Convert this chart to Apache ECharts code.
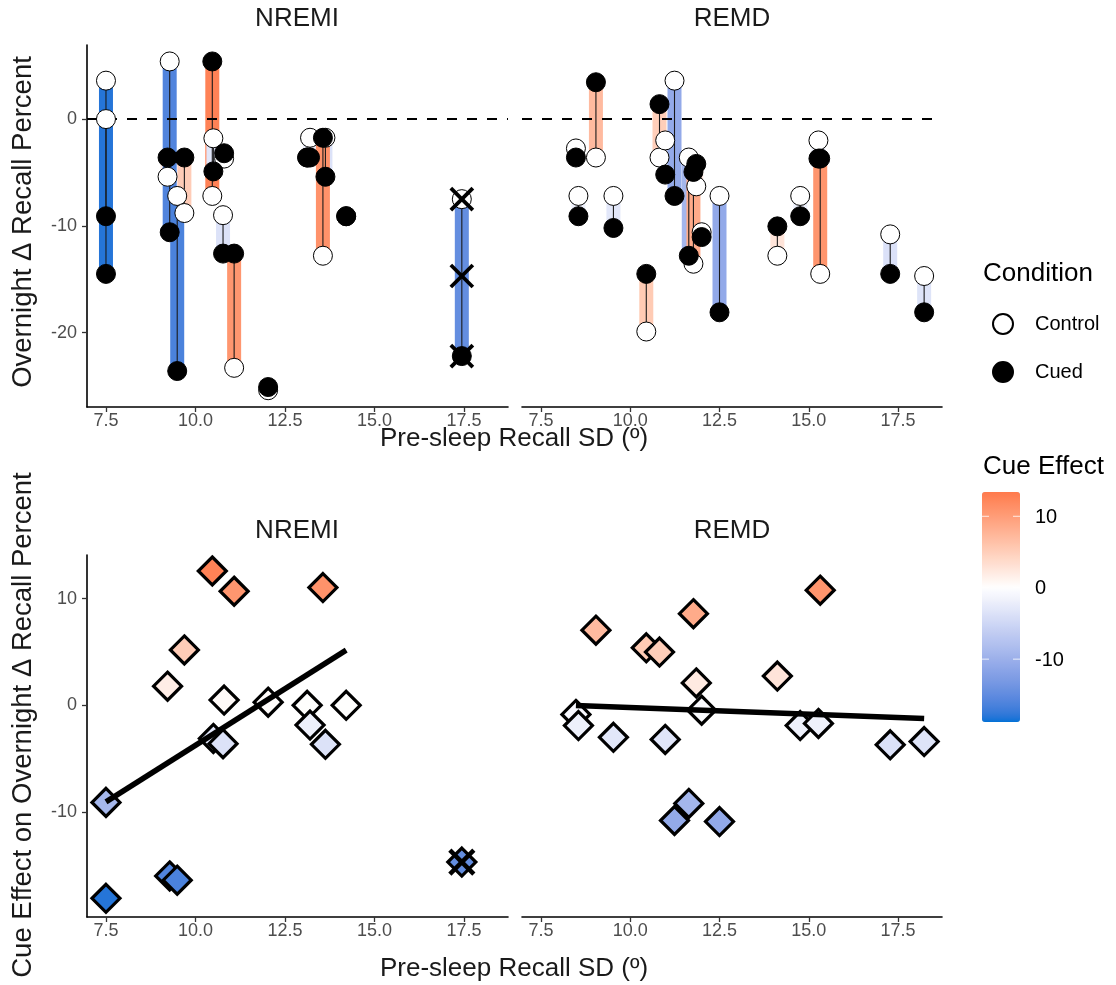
<!DOCTYPE html>
<html>
<head>
<meta charset="utf-8">
<script src="https://cdn.jsdelivr.net/npm/echarts@6/dist/echarts.min.js"></script>
<style>
html,body{margin:0;padding:0;background:#fff;}
#chart{width:1116px;height:985px;}
</style>
</head>
<body>
<div id="chart"></div>
<script>
// ---------------- DATA ----------------
const panels = ['NREMI', 'REMD'];
// NREMI participants: pre-sleep recall SD, Control and Cued overnight change
const nremiSD      = [7.50, 7.50, 9.22, 9.28, 9.49, 9.69, 10.47, 10.50, 10.77, 10.80, 11.08, 12.03, 13.12, 13.20, 13.63, 13.56, 14.21];
const nremiControl = [0.0, 3.6, -5.4, 5.4, -7.2, -8.8, -7.2, -1.8, -9.0, -3.7, -23.3, -25.4, -3.6, -1.75, -1.75, -12.8, -9.1];
const nremiCued    = [-9.1, -14.5, -3.6, -10.6, -23.6, -3.6, 5.4, -4.9, -12.6, -3.2, -12.6, -25.1, -3.6, -3.6, -5.4, -1.75, -9.1];
// NREMI outlier (drawn with X marks, excluded from fit)
const outlierSD = [17.44];
const outlierControl = [-7.5];
const outlierCued = [-22.2];
// REMD participants
const remdSD      = [8.48, 8.55, 9.04, 9.53, 10.45, 10.82, 10.98, 11.24, 11.64, 11.77, 11.85, 12.00, 12.50, 14.12, 14.76, 15.27, 15.32, 17.28, 18.23];
const remdControl = [-2.75, -7.2, -3.6, -7.2, -19.9, -3.6, -2.0, 3.6, -3.6, -13.55, -6.3, -10.6, -7.2, -12.8, -7.2, -2.0, -14.5, -10.8, -14.7];
const remdCued    = [-3.6, -9.1, 3.45, -10.2, -14.5, 1.4, -5.2, -7.2, -12.8, -4.95, -4.2, -11.05, -18.1, -10.05, -9.1, -3.7, -3.7, -14.5, -18.1];
// axis ticks
const xTicks = [7.5, 10.0, 12.5, 15.0, 17.5];
const topYTicks = [-20, -10, 0];
const bottomYTicks = [-10, 0, 10];
const cueLegendTicks = [10, 0, -10];
// scale limits
const xLimits = [6.97, 18.73];
const topYLimits = [-26.97, 6.94];
const bottomYLimits = [-19.85, 14.1];
const cueLimits = [-18.8, 13.4];
const lowColor = [0, 113, 214];
const highColor = [255, 122, 76];

// ---------------- COLOUR (Lab interpolation, white midpoint at 0) ----------------
function toLin(c){c/=255;return c<=0.04045?c/12.92:Math.pow((c+0.055)/1.055,2.4);}
function fromLin(c){c=c<=0.0031308?12.92*c:1.055*Math.pow(c,1/2.4)-0.055;return Math.max(0,Math.min(255,Math.round(c*255)));}
function f(t){return t>0.008856?Math.cbrt(t):7.787*t+16/116;}
function finv(t){const t3=t*t*t;return t3>0.008856?t3:(t-16/116)/7.787;}
function rgb2lab(c){const r=toLin(c[0]),g=toLin(c[1]),b=toLin(c[2]);
 const X=(0.4124*r+0.3576*g+0.1805*b)/0.95047,Y=0.2126*r+0.7152*g+0.0722*b,Z=(0.0193*r+0.1192*g+0.9505*b)/1.08883;
 return [116*f(Y)-16,500*(f(X)-f(Y)),200*(f(Y)-f(Z))];}
function lab2rgb(l){const fy=(l[0]+16)/116,fx=fy+l[1]/500,fz=fy-l[2]/200;
 const X=0.95047*finv(fx),Y=finv(fy),Z=1.08883*finv(fz);
 const r=3.2406*X-1.5372*Y-0.4986*Z,g=-0.9689*X+1.8758*Y+0.0415*Z,b=0.0557*X-0.2040*Y+1.0570*Z;
 return 'rgb('+fromLin(r)+','+fromLin(g)+','+fromLin(b)+')';}
const WL=rgb2lab([255,255,255]),LL=rgb2lab(lowColor),HL=rgb2lab(highColor);
function colorAt(v){
  let t,e;
  if(v<=0){t=v/cueLimits[0];e=LL;}else{t=v/cueLimits[1];e=HL;}
  t=Math.max(0,Math.min(1,t));
  return lab2rgb([WL[0]+(e[0]-WL[0])*t,WL[1]+(e[1]-WL[1])*t,WL[2]+(e[2]-WL[2])*t]);
}
const NS=80, rampColors=[];
for(let i=0;i<=NS;i++){rampColors.push(colorAt(cueLimits[0]+(cueLimits[1]-cueLimits[0])*i/NS));}

// ---------------- DERIVED ROWS ----------------
function rows(sd,ctl,cued){return sd.map((x,i)=>[x,ctl[i],cued[i],+(cued[i]-ctl[i]).toFixed(2)]);}
const nremiRows = rows(nremiSD,nremiControl,nremiCued);
const outRows = rows(outlierSD,outlierControl,outlierCued);
const remdRows = rows(remdSD,remdControl,remdCued);
const nremiAll = outRows.concat(nremiRows);

function fit(rs){
  const n=rs.length; let mx=0,my=0; rs.forEach(r=>{mx+=r[0];my+=r[3];}); mx/=n; my/=n;
  let sxy=0,sxx=0; rs.forEach(r=>{sxy+=(r[0]-mx)*(r[3]-my);sxx+=(r[0]-mx)*(r[0]-mx);});
  const b=sxy/sxx,a=my-b*mx;
  const xs=rs.map(r=>r[0]); const x0=Math.min(...xs),x1=Math.max(...xs);
  return [[x0,a+b*x0],[x1,a+b*x1]];
}

// ---------------- LAYOUT ----------------
const FONT='"Liberation Sans", Arial, sans-serif';
const TITLE=26, YTITLE=27.5, TICK=18, LEG=20;
const gridsPos=[{left:87,top:45,width:421,height:362},{left:522,top:45,width:420,height:362},
                {left:87,top:555,width:421,height:362},{left:522,top:555,width:420,height:362}];

function xAxis(gi){return {type:'value',gridIndex:gi,min:xLimits[0],max:xLimits[1],
  axisLine:{show:true,onZero:false,lineStyle:{color:'#000',width:1.6}},
  axisTick:{show:true,length:5,customValues:xTicks,lineStyle:{color:'#333',width:1.3}},
  axisLabel:{show:true,customValues:xTicks,formatter:v=>(+v).toFixed(1),color:'#4D4D4D',fontSize:TICK,fontFamily:FONT,margin:5},
  splitLine:{show:false}};}
function yAxis(gi,lim,ticks,show){return {type:'value',gridIndex:gi,min:lim[0],max:lim[1],
  axisLine:{show:show,onZero:false,lineStyle:{color:'#000',width:1.6}},
  axisTick:{show:show,length:5,customValues:ticks,lineStyle:{color:'#333',width:1.3}},
  axisLabel:{show:show,customValues:ticks,formatter:v=>String(Math.round(v)),color:'#4D4D4D',fontSize:TICK,fontFamily:FONT,margin:10},
  splitLine:{show:false}};}

function barsSeries(ai,data){return {type:'custom',xAxisIndex:ai,yAxisIndex:ai,data:data,z:2,silent:true,
  encode:{x:0,y:[1,2]},
  renderItem:(p,api)=>{const a=api.coord([api.value(0),api.value(1)]),b=api.coord([api.value(0),api.value(2)]);
    const w=14;return {type:'rect',shape:{x:a[0]-w/2,y:Math.min(a[1],b[1]),width:w,height:Math.abs(a[1]-b[1])},style:{fill:api.visual('color')}};}};}
function linesSeries(ai,data){return {type:'custom',xAxisIndex:ai,yAxisIndex:ai,data:data,z:3,silent:true,
  encode:{x:0,y:[1,2]},
  renderItem:(p,api)=>{const a=api.coord([api.value(0),api.value(1)]),b=api.coord([api.value(0),api.value(2)]);
    return {type:'line',shape:{x1:a[0],y1:a[1],x2:b[0],y2:b[1]},style:{stroke:'#1a1a1a',lineWidth:1.1}};}};}
function xSeries(ai,data,size,lw){return {type:'custom',xAxisIndex:ai,yAxisIndex:ai,data:data,z:8,silent:true,
  renderItem:(p,api)=>{const c=api.coord([api.value(0),api.value(1)]),h=size/2;
    return {type:'group',children:[
      {type:'line',shape:{x1:c[0]-h,y1:c[1]-h,x2:c[0]+h,y2:c[1]+h},style:{stroke:'#000',lineWidth:lw}},
      {type:'line',shape:{x1:c[0]-h,y1:c[1]+h,x2:c[0]+h,y2:c[1]-h},style:{stroke:'#000',lineWidth:lw}}]};}};}
function zeroSeries(ai){return {type:'scatter',xAxisIndex:ai,yAxisIndex:ai,data:[],z:1,silent:true,
  markLine:{silent:true,symbol:['none','none'],label:{show:false},data:[{yAxis:0}],
    lineStyle:{color:'#000',width:2,type:[10,10]}}};}
function pointSeries(ai,name,data,fill){return {type:'scatter',name:name,xAxisIndex:ai,yAxisIndex:ai,data:data,z:5,
  symbol:'circle',symbolSize:19,itemStyle:{color:fill,borderColor:'#000',borderWidth:1,opacity:1}};}
function diamondSeries(ai,data){return {type:'scatter',xAxisIndex:ai,yAxisIndex:ai,data:data,z:5,silent:true,
  symbol:'diamond',symbolSize:28,itemStyle:{borderColor:'#000',borderWidth:3.2,opacity:1}};}
function fitSeries(ai,pts){return {type:'line',xAxisIndex:ai,yAxisIndex:ai,data:pts,z:7,silent:true,
  symbol:'none',lineStyle:{color:'#000',width:5.5},itemStyle:{color:'#000'}};}

const series=[
  zeroSeries(0),                                               //0
  barsSeries(0,nremiAll),                                       //1
  linesSeries(0,nremiAll),                                      //2
  pointSeries(0,'Control',nremiAll.map(r=>[r[0],r[1]]),'#fff'), //3
  pointSeries(0,'Cued',nremiAll.map(r=>[r[0],r[2]]),'#000'),    //4
  xSeries(0,outRows.flatMap(r=>[[r[0],r[1]],[r[0],r[2]],[r[0],r[3]]]),22,3.8), //5
  zeroSeries(1),                                               //6
  barsSeries(1,remdRows),                                       //7
  linesSeries(1,remdRows),                                      //8
  pointSeries(1,'Control',remdRows.map(r=>[r[0],r[1]]),'#fff'), //9
  pointSeries(1,'Cued',remdRows.map(r=>[r[0],r[2]]),'#000'),    //10
  diamondSeries(2,nremiAll.map(r=>[r[0],r[3]])),                //11
  fitSeries(2,fit(nremiRows)),                                  //12
  xSeries(2,outRows.map(r=>[r[0],r[3]]),24,4.5),                //13
  diamondSeries(3,remdRows.map(r=>[r[0],r[3]])),                //14
  fitSeries(3,fit(remdRows))                                    //15
];

// colour bar geometry
const CB={left:982,top:492,w:38,h:230};
function cbY(v){return CB.top+(cueLimits[1]-v)/(cueLimits[1]-cueLimits[0])*CB.h;}

const txt=(x,y,s,size,opts)=>Object.assign({type:'text',x:x,y:y,silent:true,
  style:{text:s,fontSize:size,fontFamily:FONT,fill:'#1A1A1A',textAlign:'center',textVerticalAlign:'middle'}},opts||{});
const graphics=[
  txt(297,19,panels[0],TITLE), txt(732,19,panels[1],TITLE),
  txt(297,531,panels[0],TITLE), txt(732,531,panels[1],TITLE),
  txt(514,439,'Pre-sleep Recall SD (º)',TITLE), txt(514,969,'Pre-sleep Recall SD (º)',TITLE),
  txt(23,222,'Overnight Δ Recall Percent',YTITLE,{rotation:Math.PI/2}),
  txt(23,725,'Cue Effect on Overnight Δ Recall Percent',YTITLE,{rotation:Math.PI/2}),
  {type:'text',x:983,y:274,silent:true,style:{text:'Condition',fontSize:TITLE,fontFamily:FONT,fill:'#000',textAlign:'left',textVerticalAlign:'middle'}},
  {type:'text',x:983,y:467,silent:true,style:{text:'Cue Effect',fontSize:TITLE,fontFamily:FONT,fill:'#000',textAlign:'left',textVerticalAlign:'middle'}}
];
cueLegendTicks.forEach(v=>{
  const y=cbY(v);
  graphics.push({type:'text',x:1035,y:y+1,silent:true,z:10,style:{text:String(v),fontSize:LEG,fontFamily:FONT,fill:'#000',textAlign:'left',textVerticalAlign:'middle'}});
  graphics.push({type:'line',silent:true,z:10,shape:{x1:CB.left,y1:y,x2:CB.left+7,y2:y},style:{stroke:'rgba(255,255,255,0.8)',lineWidth:1}});
  graphics.push({type:'line',silent:true,z:10,shape:{x1:CB.left+CB.w-7,y1:y,x2:CB.left+CB.w,y2:y},style:{stroke:'rgba(255,255,255,0.8)',lineWidth:1}});
});

const option={
  animation:false,
  backgroundColor:'#fff',
  grid:gridsPos.map(g=>Object.assign({containLabel:false},g)),
  xAxis:[xAxis(0),xAxis(1),xAxis(2),xAxis(3)],
  yAxis:[yAxis(0,topYLimits,topYTicks,true),yAxis(1,topYLimits,topYTicks,false),
         yAxis(2,bottomYLimits,bottomYTicks,true),yAxis(3,bottomYLimits,bottomYTicks,false)],
  legend:{data:['Control','Cued'],orient:'vertical',left:992,top:313,itemWidth:20,itemHeight:20,itemGap:26,
    icon:'circle',padding:0,selectedMode:false,
    textStyle:{fontSize:LEG,fontFamily:FONT,color:'#000',padding:[0,0,0,17]}},
  visualMap:[
    {type:'continuous',min:cueLimits[0],max:cueLimits[1],dimension:1,seriesIndex:[11,14],
     inRange:{color:rampColors},left:CB.left,top:CB.top,itemWidth:CB.w,itemHeight:CB.h,padding:0,
     calculable:false,hoverLink:false,realtime:false,text:null,showLabel:false},
    {type:'continuous',show:false,min:cueLimits[0],max:cueLimits[1],dimension:3,seriesIndex:[1,7],
     inRange:{color:rampColors}}
  ],
  graphic:graphics,
  series:series
};
const chart=echarts.init(document.getElementById('chart'),null,{renderer:'canvas'});
chart.setOption(option);
</script>
</body>
</html>
